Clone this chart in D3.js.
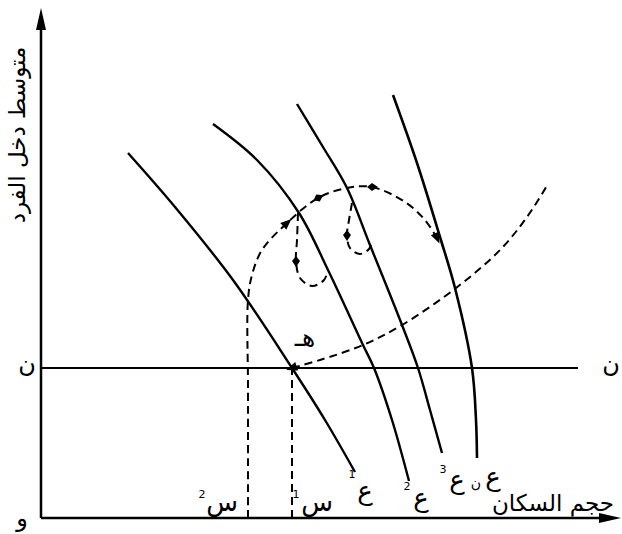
<!DOCTYPE html>
<html><head><meta charset="utf-8">
<script src="https://cdn.jsdelivr.net/npm/d3@7/dist/d3.min.js"></script>
<style>body{margin:0;background:#fff}svg{display:block}text{font-family:"DejaVu Sans",sans-serif;fill:#000}</style>
</head><body><svg id="c" width="622" height="534"></svg>
<script>
// data coordinates: x = population size, y = per-capita income (schematic units)
const curveE1 = [[87,365],[134,311],[192,238],[251,150],[284,98],[314,46]];
const curveE2 = [[172,394],[216,358],[258,305],[287,248],[322,173],[333,150],[351,98],[368,37]];
const curveE3 = [[256,414],[282,371],[306,330],[329,273],[361,193],[377,150],[389,108],[401,65]];
const curveEn = [[352,423],[376,355],[399,281],[414,230],[431,150],[435,98],[436,60]];
const trapCurve = [[251,150],[279,158],[322,173],[361,193],[415,230],[459,268],[486,301],[507,334]];
const bigArc = [[207,0],[207,130],[207,218],[211,243],[221,268],[246,295],[277,320],[306,330],[331,331],[364,316],[384,298],[396,280]];
const loop1 = [[257,305],[256,278],[255,257],[259,240],[271,232],[283,238],[287,248]];
const loop2 = [[311,315],[308,298],[306,283],[309,270],[319,264],[328,269],[331,278]];
const dropS1 = [[251,0],[251,150]];
const eqY = 150;
const arrows = [ // [x, y, dx, dy, shape]
  [246,295,1,0.9,"tri"],[277,320,1,0.5,"dia"],[331,331,1,0,"dia"],[396,280,0.45,-1,"tri"],
  [255,257,0,-1,"dia"],[306,283,0,-1,"dia"],[251,150,-1,-0.35,"tri"]];
const curveLabels = [["ع",365,500,"1",352,478],["ع",421,507,"2",407,490],["ع",457,489,"3",443,473],["ع",493,486,"ن",476,488]];
const sLabels = [["س",222,511,"2",202,498],["س",317,511,"1",296,498]];

const svg = d3.select("#c");
const x = d3.scaleLinear().domain([0,580]).range([41,621]);
const y = d3.scaleLinear().domain([0,510]).range([518,8]);
const line = d3.line().x(d=>x(d[0])).y(d=>y(d[1])).curve(d3.curveCatmullRom.alpha(0.5));
const lin = d3.line().x(d=>x(d[0])).y(d=>y(d[1]));

// axes
svg.append("line").attr("x1",x(0)).attr("y1",y(0)).attr("x2",x(0)).attr("y2",y(490)).attr("stroke","#000").attr("stroke-width",2.5);
svg.append("path").attr("d",`M${x(0)},${y(510)} L${x(0)-5},${y(488)} L${x(0)+5},${y(488)} Z`).attr("fill","#000");
svg.append("line").attr("x1",x(0)).attr("y1",y(0)).attr("x2",x(562)).attr("y2",y(0)).attr("stroke","#000").attr("stroke-width",2.5);
svg.append("path").attr("d",`M${x(580)},${y(0)} L${x(558)},${y(0)-5} L${x(558)},${y(0)+5} Z`).attr("fill","#000");
// horizontal line N
svg.append("line").attr("x1",x(0)).attr("y1",y(eqY)).attr("x2",x(537)).attr("y2",y(eqY)).attr("stroke","#000").attr("stroke-width",2);

// solid curves
[[curveE1,2.4],[curveE2,2.4],[curveE3,2.4],[curveEn,2.6]].forEach(([c,w])=>{
  svg.append("path").attr("d",line(c)).attr("fill","none").attr("stroke","#000").attr("stroke-width",w);
});
// dashed
const dash = "8,5";
[trapCurve,bigArc,loop1,loop2].forEach(c=>{
  svg.append("path").attr("d",line(c)).attr("fill","none").attr("stroke","#000").attr("stroke-width",2).attr("stroke-dasharray",dash);
});
svg.append("path").attr("d",lin(dropS1)).attr("fill","none").attr("stroke","#000").attr("stroke-width",2).attr("stroke-dasharray",dash);

// arrow markers
arrows.forEach(([ax,ay,dx,dy,s])=>{
  const ang = Math.atan2(-dy,dx)*180/Math.PI;
  const p = s==="tri" ? "M6,0 L-5,-4.5 L-5,4.5 Z" : "M6,0 L0,-4 L-5,0 L0,4 Z";
  svg.append("path").attr("d",p).attr("fill","#000")
    .attr("transform",`translate(${x(ax)},${y(ay)}) rotate(${ang})`);
});

// labels
svg.append("text").attr("transform","translate(25,135) rotate(-90)").attr("text-anchor","middle").attr("font-size",23).text("متوسط دخل الفرد");
svg.append("text").attr("x",27).attr("y",372).attr("text-anchor","middle").attr("font-size",24).text("ن");
svg.append("text").attr("x",611).attr("y",372).attr("text-anchor","middle").attr("font-size",24).text("ن");
svg.append("text").attr("x",22).attr("y",526).attr("text-anchor","middle").attr("font-size",24).text("و");
svg.append("text").attr("x",305).attr("y",346).attr("text-anchor","middle").attr("font-size",25).text("هـ");
svg.append("text").attr("x",553).attr("y",511).attr("text-anchor","middle").attr("font-size",23).text("حجم السكان");
curveLabels.concat(sLabels).forEach(([m,mx,my,sub,sx,sy])=>{
  svg.append("text").attr("x",mx).attr("y",my).attr("text-anchor","middle").attr("font-size",26).text(m);
  svg.append("text").attr("x",sx).attr("y",sy).attr("text-anchor","middle").attr("font-size",sub==="ن"?14:11).text(sub);
});
</script></body></html>
